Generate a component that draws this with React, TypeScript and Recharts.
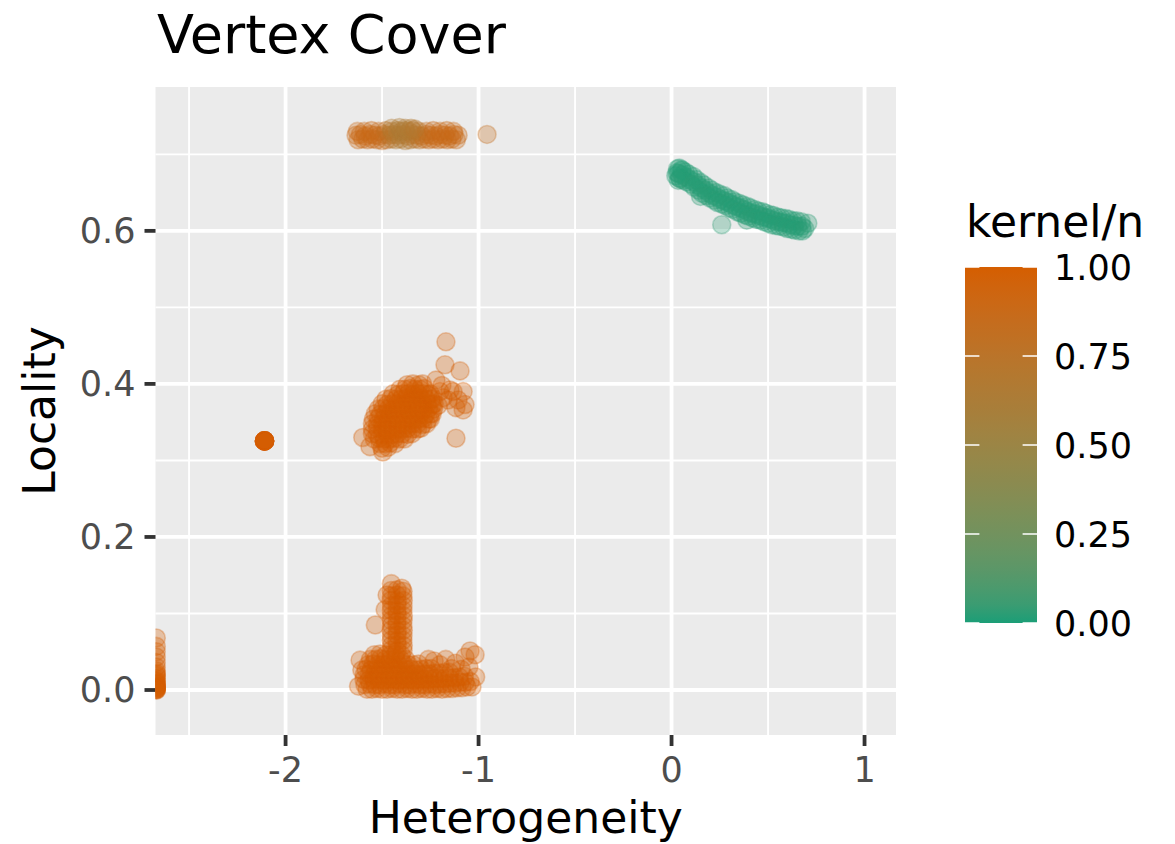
import React from 'react';
import { ScatterChart, Scatter, XAxis, YAxis, CartesianGrid, ReferenceLine } from 'recharts';

// [heterogeneity, locality, kernel/n]
type Pt = [number, number, number];

const topBandPoints: Pt[] = [
  [-1.635, 0.725, 0.88], [-1.612, 0.726, 0.88], [-1.588, 0.724, 0.88], [-1.561, 0.726, 0.88], [-1.537, 0.725, 0.86],
  [-1.514, 0.724, 0.86], [-1.489, 0.726, 0.82], [-1.463, 0.725, 0.76], [-1.44, 0.726, 0.7], [-1.416, 0.725, 0.66],
  [-1.391, 0.726, 0.66], [-1.367, 0.724, 0.68], [-1.343, 0.726, 0.7], [-1.318, 0.725, 0.76], [-1.294, 0.724, 0.8],
  [-1.27, 0.726, 0.86], [-1.247, 0.725, 0.86], [-1.222, 0.724, 0.88], [-1.198, 0.726, 0.86], [-1.173, 0.725, 0.88],
  [-1.15, 0.724, 0.86], [-1.127, 0.726, 0.88], [-1.106, 0.725, 0.86],
  [-1.624, 0.719, 0.88], [-1.6, 0.72, 0.88], [-1.575, 0.719, 0.86], [-1.55, 0.72, 0.88], [-1.526, 0.719, 0.86],
  [-1.5, 0.718, 0.86], [-1.476, 0.719, 0.8], [-1.452, 0.72, 0.74], [-1.428, 0.719, 0.68], [-1.404, 0.72, 0.66],
  [-1.38, 0.718, 0.68], [-1.355, 0.719, 0.7], [-1.33, 0.72, 0.74], [-1.306, 0.719, 0.78], [-1.282, 0.72, 0.84],
  [-1.258, 0.719, 0.86], [-1.234, 0.72, 0.88], [-1.21, 0.719, 0.86], [-1.186, 0.72, 0.88], [-1.162, 0.719, 0.86],
  [-1.138, 0.72, 0.88], [-1.115, 0.719, 0.86],
  [-1.628, 0.73, 0.88], [-1.592, 0.73, 0.86], [-1.555, 0.731, 0.88], [-1.518, 0.73, 0.86], [-1.48, 0.731, 0.78],
  [-1.45, 0.73, 0.7], [-1.42, 0.731, 0.66], [-1.4, 0.73, 0.64], [-1.38, 0.731, 0.66], [-1.36, 0.73, 0.68],
  [-1.34, 0.731, 0.7], [-1.31, 0.73, 0.76], [-1.27, 0.73, 0.84], [-1.235, 0.731, 0.86], [-1.2, 0.73, 0.88],
  [-1.165, 0.731, 0.86], [-1.13, 0.73, 0.88],
  [-1.45, 0.734, 0.68], [-1.41, 0.735, 0.64], [-1.38, 0.734, 0.66], [-1.35, 0.734, 0.68], [-1.33, 0.733, 0.72],
  [-0.956, 0.726, 0.84],
];

const greenArcPoints: Pt[] = [
  [0.031, 0.681, 0.02], [0.052, 0.68, 0.01], [0.071, 0.677, 0.02], [0.089, 0.674, 0.01], [0.112, 0.671, 0.02],
  [0.129, 0.667, 0.01], [0.151, 0.663, 0.02], [0.168, 0.66, 0.01], [0.191, 0.656, 0.02], [0.209, 0.653, 0.01],
  [0.231, 0.65, 0.02], [0.249, 0.648, 0.01], [0.272, 0.646, 0.02], [0.289, 0.643, 0.01], [0.311, 0.641, 0.02],
  [0.328, 0.638, 0.01], [0.351, 0.636, 0.02], [0.369, 0.634, 0.01], [0.392, 0.632, 0.02], [0.409, 0.63, 0.01],
  [0.431, 0.628, 0.02], [0.448, 0.626, 0.01], [0.471, 0.625, 0.02], [0.489, 0.623, 0.01], [0.512, 0.621, 0.02],
  [0.529, 0.62, 0.01], [0.551, 0.618, 0.02], [0.569, 0.617, 0.01], [0.592, 0.616, 0.02], [0.609, 0.615, 0.01],
  [0.631, 0.613, 0.02], [0.649, 0.613, 0.01], [0.672, 0.612, 0.02],
  [0.036, 0.675, 0.01], [0.055, 0.673, 0.02], [0.076, 0.67, 0.01], [0.095, 0.667, 0.02], [0.116, 0.664, 0.01],
  [0.135, 0.66, 0.02], [0.156, 0.656, 0.01], [0.175, 0.653, 0.02], [0.196, 0.649, 0.01], [0.215, 0.646, 0.02],
  [0.236, 0.644, 0.01], [0.255, 0.641, 0.02], [0.276, 0.639, 0.01], [0.295, 0.637, 0.02], [0.316, 0.634, 0.01],
  [0.335, 0.632, 0.02], [0.356, 0.63, 0.01], [0.375, 0.628, 0.02], [0.396, 0.625, 0.01], [0.415, 0.623, 0.02],
  [0.436, 0.622, 0.01], [0.455, 0.62, 0.02], [0.476, 0.618, 0.01], [0.495, 0.617, 0.02], [0.516, 0.615, 0.01],
  [0.535, 0.613, 0.02], [0.556, 0.612, 0.01], [0.575, 0.611, 0.02], [0.596, 0.61, 0.01], [0.615, 0.608, 0.02],
  [0.636, 0.607, 0.01], [0.655, 0.606, 0.02], [0.676, 0.606, 0.01],
  [0.041, 0.669, 0.01], [0.062, 0.666, 0.02], [0.079, 0.664, 0.01], [0.101, 0.661, 0.02], [0.118, 0.657, 0.01],
  [0.141, 0.653, 0.02], [0.159, 0.649, 0.01], [0.181, 0.646, 0.02], [0.199, 0.643, 0.01], [0.221, 0.64, 0.02],
  [0.238, 0.637, 0.01], [0.261, 0.635, 0.02], [0.279, 0.633, 0.01], [0.301, 0.63, 0.02], [0.318, 0.628, 0.01],
  [0.341, 0.625, 0.02], [0.359, 0.623, 0.01], [0.381, 0.621, 0.02], [0.398, 0.619, 0.01], [0.421, 0.617, 0.02],
  [0.439, 0.615, 0.01], [0.461, 0.614, 0.02], [0.478, 0.612, 0.01], [0.501, 0.61, 0.02], [0.519, 0.608, 0.01],
  [0.541, 0.607, 0.02], [0.558, 0.606, 0.01], [0.581, 0.605, 0.02], [0.599, 0.603, 0.01], [0.621, 0.602, 0.02],
  [0.638, 0.601, 0.01], [0.661, 0.6, 0.02], [0.679, 0.6, 0.01],
  [0.028, 0.676, 0.02], [0.04, 0.682, 0.01], [0.045, 0.668, 0.02], [0.055, 0.679, 0.01],
  [0.035, 0.666, 0.02], [0.022, 0.672, 0.01], [0.26, 0.608, 0.03], [0.706, 0.61, 0.02], [0.69, 0.603, 0.02],
  [0.39, 0.614, 0.02], [0.15, 0.645, 0.02],
];

const midClusterPoints: Pt[] = [
  [-1.5, 0.316, 1], [-1.47, 0.317, 1],
  [-1.51, 0.322, 1], [-1.484, 0.322, 1], [-1.458, 0.323, 1], [-1.432, 0.322, 1],
  [-1.54, 0.328, 1], [-1.514, 0.329, 1], [-1.488, 0.328, 1], [-1.462, 0.328, 1], [-1.436, 0.329, 1], [-1.41, 0.328, 1],
  [-1.384, 0.328, 1],
  [-1.55, 0.335, 1], [-1.524, 0.334, 1], [-1.498, 0.335, 1], [-1.472, 0.335, 1], [-1.446, 0.334, 1], [-1.42, 0.335, 1],
  [-1.394, 0.335, 1], [-1.368, 0.334, 1], [-1.345, 0.335, 1],
  [-1.55, 0.341, 1], [-1.524, 0.342, 1], [-1.498, 0.341, 1], [-1.472, 0.341, 1], [-1.446, 0.342, 1], [-1.42, 0.341, 1],
  [-1.394, 0.341, 1], [-1.368, 0.342, 1], [-1.342, 0.341, 1], [-1.316, 0.341, 1], [-1.3, 0.342, 1],
  [-1.55, 0.348, 1], [-1.524, 0.347, 1], [-1.498, 0.348, 1], [-1.472, 0.348, 1], [-1.446, 0.347, 1], [-1.42, 0.348, 1],
  [-1.394, 0.348, 1], [-1.368, 0.347, 1], [-1.342, 0.348, 1], [-1.316, 0.348, 1], [-1.29, 0.347, 1], [-1.27, 0.348, 1],
  [-1.545, 0.354, 1], [-1.519, 0.355, 1], [-1.493, 0.354, 1], [-1.467, 0.354, 1], [-1.441, 0.355, 1], [-1.415, 0.354, 1],
  [-1.389, 0.354, 1], [-1.363, 0.355, 1], [-1.337, 0.354, 1], [-1.311, 0.354, 1], [-1.285, 0.355, 1], [-1.259, 0.354, 1],
  [-1.25, 0.354, 1],
  [-1.535, 0.361, 1], [-1.509, 0.36, 1], [-1.483, 0.361, 1], [-1.457, 0.361, 1], [-1.431, 0.36, 1], [-1.405, 0.361, 1],
  [-1.379, 0.361, 1], [-1.353, 0.36, 1], [-1.327, 0.361, 1], [-1.301, 0.361, 1], [-1.275, 0.36, 1], [-1.249, 0.361, 1],
  [-1.24, 0.361, 1],
  [-1.52, 0.367, 1], [-1.494, 0.368, 1], [-1.468, 0.367, 1], [-1.442, 0.367, 1], [-1.416, 0.368, 1], [-1.39, 0.367, 1],
  [-1.364, 0.367, 1], [-1.338, 0.368, 1], [-1.312, 0.367, 1], [-1.286, 0.367, 1], [-1.26, 0.368, 1], [-1.234, 0.367, 1],
  [-1.5, 0.374, 1], [-1.474, 0.373, 1], [-1.448, 0.374, 1], [-1.422, 0.374, 1], [-1.396, 0.373, 1], [-1.37, 0.374, 1],
  [-1.344, 0.374, 1], [-1.318, 0.373, 1], [-1.292, 0.374, 1], [-1.266, 0.374, 1], [-1.24, 0.373, 1], [-1.23, 0.374, 1],
  [-1.48, 0.38, 1], [-1.454, 0.381, 1], [-1.428, 0.38, 1], [-1.402, 0.38, 1], [-1.376, 0.381, 1], [-1.35, 0.38, 1],
  [-1.324, 0.38, 1], [-1.298, 0.381, 1], [-1.272, 0.38, 1], [-1.246, 0.38, 1], [-1.235, 0.381, 1],
  [-1.443, 0.387, 1], [-1.417, 0.386, 1], [-1.391, 0.387, 1], [-1.365, 0.387, 1], [-1.339, 0.386, 1], [-1.313, 0.387, 1],
  [-1.287, 0.387, 1], [-1.261, 0.386, 1], [-1.25, 0.387, 1],
  [-1.407, 0.393, 1], [-1.381, 0.393, 1], [-1.355, 0.394, 1], [-1.329, 0.393, 1], [-1.303, 0.393, 1], [-1.282, 0.394, 1],
  [-1.37, 0.399, 1], [-1.34, 0.4, 1], [-1.31, 0.399, 1], [-1.29, 0.4, 1],
];

const midOutlierPoints: Pt[] = [
  [-1.563, 0.318, 1], [-1.496, 0.311, 1], [-1.6, 0.33, 1],
  [-1.169, 0.455, 1], [-1.174, 0.425, 1], [-1.096, 0.417, 1], [-1.221, 0.405, 1], [-1.132, 0.39, 1],
  [-1.08, 0.39, 1], [-1.158, 0.379, 1], [-1.07, 0.373, 1], [-1.106, 0.379, 1], [-1.117, 0.329, 1],
  [-1.184, 0.382, 1], [-1.2, 0.39, 1], [-1.117, 0.369, 1], [-1.148, 0.392, 1], [-1.08, 0.366, 1],
  [-1.19, 0.398, 1], [-1.21, 0.372, 1],
];

const isolatedPoints: Pt[] = [
  [-2.109, 0.3255, 1], [-2.109, 0.3255, 1], [-2.109, 0.3255, 1], [-2.109, 0.3255, 1],
  [-2.109, 0.3255, 1], [-2.109, 0.3255, 1], [-2.109, 0.3255, 1], [-2.109, 0.3255, 1],
  [-2.109, 0.3255, 1], [-2.109, 0.3255, 1], [-2.109, 0.3255, 1], [-2.109, 0.3255, 1],
];

const bottomColumnPoints: Pt[] = [
  [-1.452, 0.139, 1], [-1.398, 0.133, 1],
  [-1.453, 0.13, 1], [-1.422, 0.131, 1], [-1.391, 0.129, 1],
  [-1.452, 0.123, 1], [-1.423, 0.124, 1], [-1.392, 0.123, 1],
  [-1.454, 0.117, 1], [-1.421, 0.116, 1], [-1.39, 0.117, 1],
  [-1.452, 0.11, 1], [-1.422, 0.111, 1], [-1.391, 0.11, 1],
  [-1.453, 0.104, 1], [-1.423, 0.103, 1], [-1.392, 0.104, 1],
  [-1.451, 0.097, 1], [-1.421, 0.098, 1], [-1.39, 0.097, 1],
  [-1.453, 0.091, 1], [-1.422, 0.09, 1], [-1.391, 0.091, 1],
  [-1.452, 0.084, 1], [-1.423, 0.085, 1], [-1.392, 0.084, 1],
  [-1.454, 0.078, 1], [-1.421, 0.077, 1], [-1.39, 0.078, 1],
  [-1.452, 0.071, 1], [-1.422, 0.072, 1], [-1.391, 0.071, 1],
  [-1.453, 0.065, 1], [-1.423, 0.064, 1], [-1.392, 0.065, 1],
  [-1.451, 0.058, 1], [-1.421, 0.059, 1], [-1.39, 0.058, 1],
  [-1.453, 0.052, 1], [-1.422, 0.051, 1], [-1.391, 0.052, 1],
  [-1.535, 0.085, 1], [-1.474, 0.124, 1], [-1.484, 0.105, 1],
];

const bottomBasePoints: Pt[] = [
  [-1.578, 0.001, 1], [-1.552, 0.001, 1], [-1.526, 0.002, 1], [-1.5, 0.001, 1], [-1.474, 0.001, 1],
  [-1.448, 0.002, 1], [-1.422, 0.001, 1], [-1.396, 0.001, 1], [-1.37, 0.002, 1], [-1.345, 0.001, 1],
  [-1.319, 0.001, 1], [-1.293, 0.002, 1], [-1.267, 0.001, 1], [-1.241, 0.001, 1], [-1.215, 0.002, 1],
  [-1.189, 0.001, 1], [-1.163, 0.002, 1], [-1.137, 0.002, 1], [-1.111, 0.003, 1], [-1.086, 0.003, 1],
  [-1.06, 0.004, 1], [-1.034, 0.004, 1],
  [-1.589, 0.007, 1], [-1.563, 0.008, 1], [-1.537, 0.007, 1], [-1.511, 0.007, 1], [-1.485, 0.008, 1],
  [-1.459, 0.007, 1], [-1.433, 0.007, 1], [-1.407, 0.008, 1], [-1.381, 0.007, 1], [-1.355, 0.007, 1],
  [-1.329, 0.008, 1], [-1.303, 0.007, 1], [-1.277, 0.007, 1], [-1.251, 0.008, 1], [-1.225, 0.007, 1],
  [-1.199, 0.008, 1], [-1.173, 0.008, 1], [-1.147, 0.009, 1], [-1.121, 0.009, 1], [-1.095, 0.01, 1],
  [-1.069, 0.01, 1], [-1.043, 0.011, 1],
  [-1.594, 0.014, 1], [-1.568, 0.013, 1], [-1.542, 0.014, 1], [-1.516, 0.014, 1], [-1.49, 0.013, 1],
  [-1.464, 0.014, 1], [-1.438, 0.014, 1], [-1.412, 0.013, 1], [-1.386, 0.014, 1], [-1.36, 0.014, 1],
  [-1.334, 0.013, 1], [-1.308, 0.014, 1], [-1.282, 0.014, 1], [-1.256, 0.014, 1], [-1.23, 0.015, 1],
  [-1.204, 0.015, 1], [-1.178, 0.015, 1], [-1.152, 0.016, 1], [-1.126, 0.016, 1], [-1.1, 0.017, 1],
  [-1.074, 0.018, 1],
  [-1.592, 0.02, 1], [-1.566, 0.021, 1], [-1.54, 0.02, 1], [-1.514, 0.02, 1], [-1.488, 0.021, 1],
  [-1.462, 0.02, 1], [-1.436, 0.02, 1], [-1.41, 0.021, 1], [-1.384, 0.02, 1], [-1.358, 0.02, 1],
  [-1.332, 0.021, 1], [-1.306, 0.02, 1], [-1.28, 0.021, 1], [-1.254, 0.021, 1], [-1.228, 0.022, 1],
  [-1.202, 0.022, 1], [-1.176, 0.023, 1], [-1.15, 0.023, 1],
  [-1.583, 0.027, 1], [-1.557, 0.026, 1], [-1.531, 0.027, 1], [-1.505, 0.027, 1], [-1.479, 0.026, 1],
  [-1.453, 0.027, 1], [-1.427, 0.027, 1], [-1.401, 0.026, 1], [-1.375, 0.027, 1], [-1.349, 0.027, 1],
  [-1.323, 0.026, 1], [-1.297, 0.027, 1], [-1.271, 0.028, 1], [-1.245, 0.028, 1],
  [-1.572, 0.033, 1], [-1.546, 0.034, 1], [-1.52, 0.033, 1], [-1.494, 0.033, 1], [-1.468, 0.034, 1],
  [-1.442, 0.033, 1], [-1.416, 0.033, 1], [-1.39, 0.034, 1], [-1.364, 0.033, 1], [-1.338, 0.033, 1],
  [-1.312, 0.034, 1],
  [-1.56, 0.04, 1], [-1.534, 0.04, 1], [-1.508, 0.041, 1], [-1.482, 0.04, 1], [-1.456, 0.04, 1],
  [-1.43, 0.041, 1], [-1.404, 0.04, 1], [-1.378, 0.04, 1],
  [-1.54, 0.046, 1], [-1.51, 0.047, 1], [-1.48, 0.046, 1], [-1.455, 0.046, 1], [-1.43, 0.047, 1], [-1.4, 0.046, 1],
  [-1.23, 0.038, 1], [-1.17, 0.04, 1], [-1.12, 0.035, 1], [-1.07, 0.043, 1], [-1.044, 0.051, 1],
  [-1.018, 0.046, 1], [-1.09, 0.027, 1], [-1.14, 0.028, 1], [-1.015, 0.017, 1], [-1.2, 0.033, 1],
  [-1.26, 0.04, 1], [-1.05, 0.03, 1],
  [-1.614, 0.039, 1], [-1.622, 0.005, 1], [-1.605, 0.026, 1],
];

const leftEdgePoints: Pt[] = [
  [-2.67, 0.068, 1], [-2.67, 0.057, 1], [-2.67, 0.05, 1], [-2.67, 0.043, 1], [-2.67, 0.036, 1],
  [-2.67, 0.03, 1], [-2.67, 0.025, 1], [-2.67, 0.02, 1], [-2.67, 0.015, 1], [-2.67, 0.011, 1],
  [-2.67, 0.008, 1], [-2.67, 0.005, 1], [-2.67, 0.003, 1], [-2.67, 0.001, 1], [-2.67, 0, 1],
  [-2.67, 0, 1], [-2.67, 0.002, 1], [-2.67, 0.004, 1], [-2.67, 0.006, 1], [-2.67, 0.009, 1],
  [-2.67, 0.012, 1], [-2.67, 0.018, 1], [-2.67, 0.022, 1], [-2.67, 0.001, 1], [-2.67, 0.003, 1],
];

const xMajorTicks = [-2, -1, 0, 1];
const xMinorBreaks = [-2.5, -1.5, -0.5, 0.5];
const yMajorTicks = [0, 0.2, 0.4, 0.6];
const yMinorBreaks = [0.1, 0.3, 0.5, 0.7];
const legendBreaks = [0, 0.25, 0.5, 0.75, 1];
const xDomain: [number, number] = [-2.674, 1.163];
const yDomain: [number, number] = [-0.0588, 0.788];

const LOW = '#1B9E77';
const HIGH = '#D55E00';
const FONT = "'DejaVu Sans', sans-serif";

// ---- Lab colour interpolation (as ggplot's gradient) ----
function hexToRgb(h: string) {
  return [1, 3, 5].map((i) => parseInt(h.slice(i, i + 2), 16) / 255);
}
function toLin(c: number) { return c <= 0.04045 ? c / 12.92 : Math.pow((c + 0.055) / 1.055, 2.4); }
function fromLin(c: number) { return c <= 0.0031308 ? 12.92 * c : 1.055 * Math.pow(c, 1 / 2.4) - 0.055; }
const Xn = 0.95047, Yn = 1, Zn = 1.08883;
function fLab(t: number) { return t > 0.008856 ? Math.cbrt(t) : 7.787 * t + 16 / 116; }
function fInv(t: number) { return t * t * t > 0.008856 ? t * t * t : (t - 16 / 116) / 7.787; }
function hexToLab(h: string) {
  const [r, g, b] = hexToRgb(h).map(toLin);
  const X = 0.4124 * r + 0.3576 * g + 0.1805 * b;
  const Y = 0.2126 * r + 0.7152 * g + 0.0722 * b;
  const Z = 0.0193 * r + 0.1192 * g + 0.9505 * b;
  const fx = fLab(X / Xn), fy = fLab(Y / Yn), fz = fLab(Z / Zn);
  return [116 * fy - 16, 500 * (fx - fy), 200 * (fy - fz)];
}
function labToHex([L, a, bb]: number[]) {
  const fy = (L + 16) / 116, fx = fy + a / 500, fz = fy - bb / 200;
  const X = Xn * fInv(fx), Y = Yn * fInv(fy), Z = Zn * fInv(fz);
  const r = 3.2406 * X - 1.5372 * Y - 0.4986 * Z;
  const g = -0.9689 * X + 1.8758 * Y + 0.0415 * Z;
  const b = 0.0557 * X - 0.204 * Y + 1.057 * Z;
  return '#' + [r, g, b].map((c) => {
    const v = Math.round(Math.min(1, Math.max(0, fromLin(c))) * 255);
    return v.toString(16).padStart(2, '0');
  }).join('');
}
const labLow = hexToLab(LOW);
const labHigh = hexToLab(HIGH);
function kernelColor(k: number) {
  return labToHex(labLow.map((v, i) => v + (labHigh[i] - v) * k));
}

const toRows = (pts: Pt[]) => pts.map(([h, l, k]) => ({ h, l, k }));

const Dot = (props: any) => {
  const { cx, cy, payload } = props;
  if (cx == null || cy == null || !payload) return null;
  const c = kernelColor(payload.k);
  return (
    <circle cx={cx} cy={cy} r={9} fill={c} fillOpacity={0.3} stroke={c} strokeOpacity={0.3} strokeWidth={1.6} />
  );
};

const series = [
  leftEdgePoints, isolatedPoints, bottomBasePoints, bottomColumnPoints,
  midClusterPoints, midOutlierPoints, topBandPoints, greenArcPoints,
];

const W = 1175, H = 844;
const PANEL = { left: 155.5, top: 87, right: 896, bottom: 735 };

export default function App() {
  const barX = 965, barW = 72, barTop = 267, barBottom = 623;
  const barY = (v: number) => barBottom - v * (barBottom - barTop);
  const stops = Array.from({ length: 21 }, (_, i) => i / 20);
  return (
    <div style={{ position: 'absolute', left: 0, top: 0, width: W, height: H, background: '#fff' }}>
      <ScatterChart
        width={W}
        height={H}
        margin={{ top: PANEL.top, right: W - PANEL.right, bottom: H - PANEL.bottom - 60, left: 0 }}
      >
        <CartesianGrid fill="#EBEBEB" horizontal={false} vertical={false} stroke="none" />
        {xMinorBreaks.map((v) => (
          <ReferenceLine key={'xm' + v} x={v} stroke="#FFFFFF" strokeWidth={1.9} />
        ))}
        {yMinorBreaks.map((v) => (
          <ReferenceLine key={'ym' + v} y={v} stroke="#FFFFFF" strokeWidth={1.9} />
        ))}
        {xMajorTicks.map((v) => (
          <ReferenceLine key={'xM' + v} x={v} stroke="#FFFFFF" strokeWidth={3.8} />
        ))}
        {yMajorTicks.map((v) => (
          <ReferenceLine key={'yM' + v} y={v} stroke="#FFFFFF" strokeWidth={3.8} />
        ))}
        <XAxis
          type="number"
          dataKey="h"
          domain={xDomain}
          allowDataOverflow
          ticks={xMajorTicks}
          height={60}
          axisLine={false}
          tickSize={11}
          tickMargin={11}
          tickLine={{ stroke: '#333333', strokeWidth: 3.8 }}
          tick={{ fontSize: 35, fill: '#4D4D4D', fontFamily: FONT }}
          tickFormatter={(v: number) => String(v)}
        />
        <YAxis
          type="number"
          dataKey="l"
          domain={yDomain}
          allowDataOverflow
          ticks={yMajorTicks}
          width={PANEL.left}
          axisLine={false}
          tickSize={11}
          tickMargin={9}
          tickLine={{ stroke: '#333333', strokeWidth: 3.8 }}
          tick={{ fontSize: 35, fill: '#4D4D4D', fontFamily: FONT }}
          tickFormatter={(v: number) => v.toFixed(1)}
        />
        {series.map((pts, i) => (
          <Scatter key={i} data={toRows(pts)} shape={Dot} isAnimationActive={false} />
        ))}
      </ScatterChart>
      <svg
        width={W}
        height={H}
        style={{ position: 'absolute', left: 0, top: 0, pointerEvents: 'none' }}
      >
        <defs>
          <linearGradient id="kgrad" x1="0" y1="0" x2="0" y2="1">
            {stops.map((s) => (
              <stop key={s} offset={s} stopColor={kernelColor(1 - s)} />
            ))}
          </linearGradient>
        </defs>
        <text x={157} y={53} fontFamily={FONT} fontSize={54} fill="#000">Vertex Cover</text>
        <text
          x={(PANEL.left + PANEL.right) / 2}
          y={833}
          textAnchor="middle"
          fontFamily={FONT}
          fontSize={44}
          fill="#000"
        >
          Heterogeneity
        </text>
        <text
          x={55}
          y={(PANEL.top + PANEL.bottom) / 2}
          textAnchor="middle"
          transform={`rotate(-90 55 ${(PANEL.top + PANEL.bottom) / 2})`}
          fontFamily={FONT}
          fontSize={44}
          fill="#000"
        >
          Locality
        </text>
        <text x={966} y={237} fontFamily={FONT} fontSize={44} fill="#000">kernel/n</text>
        <rect x={barX} y={barTop} width={barW} height={barBottom - barTop} fill="url(#kgrad)" />
        {legendBreaks.map((v) => (
          <g key={v}>
            <line x1={barX} x2={barX + barW * 0.2} y1={barY(v)} y2={barY(v)} stroke="#FFFFFF" strokeWidth={1.5} />
            <line x1={barX + barW * 0.8} x2={barX + barW} y1={barY(v)} y2={barY(v)} stroke="#FFFFFF" strokeWidth={1.5} />
            <text x={1054} y={barY(v)} dy="0.36em" fontFamily={FONT} fontSize={35} fill="#000">
              {v.toFixed(2)}
            </text>
          </g>
        ))}
      </svg>
    </div>
  );
}
